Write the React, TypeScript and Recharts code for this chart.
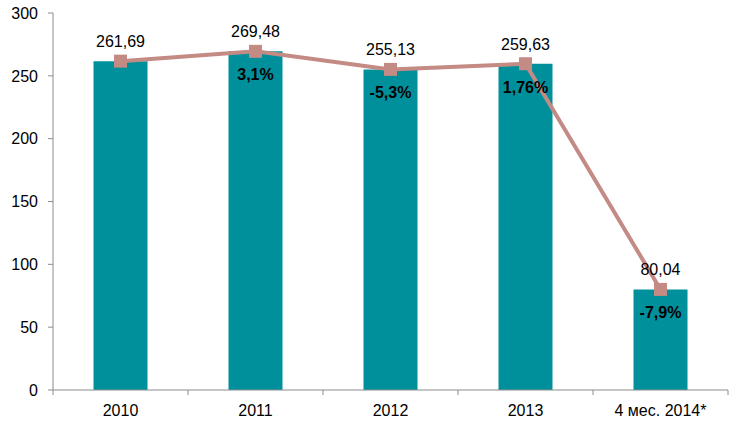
import React from "react";
import { ComposedChart, Bar, Line, XAxis, YAxis, LabelList } from "recharts";

const categories = ["2010", "2011", "2012", "2013", "4 мес. 2014*"];
const values = [261.69, 269.48, 255.13, 259.63, 80.04];
const changes: (string | null)[] = [null, "3,1%", "-5,3%", "1,76%", "-7,9%"];
const yTicks = [0, 50, 100, 150, 200, 250, 300];

const data = categories.map((c, i) => ({
  name: c,
  value: values[i],
  change: changes[i],
}));

const W = 744;
const H = 430;
const M = { top: 13, right: 16, left: 0, bottom: 10 };
const Y_W = 53;
const HALF_BAND = (W - M.left - M.right - Y_W) / categories.length / 2;

const FONT = "'Liberation Sans', Arial, sans-serif";
const FS = 16;
const AXIS = "#8c8c8c";
const BAR = "#00909c";
const LINE = "#c48a84";

const fmt = (v: number) => v.toFixed(2).replace(".", ",");

const XTick = (props: any) => {
  const { x, y, payload, index } = props;
  return (
    <g>
      <line x1={x - HALF_BAND} y1={y} x2={x - HALF_BAND} y2={y + 5} stroke={AXIS} />
      {index === categories.length - 1 && (
        <line x1={x + HALF_BAND} y1={y} x2={x + HALF_BAND} y2={y + 5} stroke={AXIS} />
      )}
      <text x={x} y={y + 26} textAnchor="middle" fontSize={FS} fontFamily={FONT} fill="#000">
        {payload.value}
      </text>
    </g>
  );
};

const SquareDot = (props: any) => {
  const { cx, cy } = props;
  if (cx == null || cy == null) return null;
  return <rect x={cx - 6.5} y={cy - 6.5} width={13} height={13} fill={LINE} />;
};

const ValueLabel = (props: any) => {
  const { x, y, value } = props;
  return (
    <text x={x} y={y - 14} textAnchor="middle" fontSize={FS} fontFamily={FONT} fill="#000">
      {fmt(value)}
    </text>
  );
};

const ChangeLabel = (props: any) => {
  const { x, y, value } = props;
  if (!value) return null;
  return (
    <text x={x} y={y + 29} textAnchor="middle" fontSize={FS} fontWeight="bold" fontFamily={FONT} fill="#000">
      {value}
    </text>
  );
};

export default function App() {
  return (
    <div style={{ position: "absolute", left: 0, top: 0, width: W, height: H, background: "#fff" }}>
      <ComposedChart width={W} height={H} data={data} margin={M} barCategoryGap="30%">
        <XAxis
          dataKey="name"
          tickLine={false}
          tickSize={0}
          tickMargin={0}
          axisLine={{ stroke: AXIS }}
          tick={<XTick />}
          height={30}
          interval={0}
        />
        <YAxis
          domain={[0, 300]}
          ticks={yTicks}
          width={Y_W}
          tickSize={5}
          tickMargin={10}
          axisLine={{ stroke: AXIS }}
          tickLine={{ stroke: AXIS }}
          tick={{ fill: "#000", fontSize: FS, fontFamily: FONT }}
          interval={0}
        />
        <Bar dataKey="value" fill={BAR} isAnimationActive={false} />
        <Line
          dataKey="value"
          stroke={LINE}
          strokeWidth={4}
          dot={<SquareDot />}
          activeDot={false}
          isAnimationActive={false}
        >
          <LabelList dataKey="value" content={<ValueLabel />} />
          <LabelList dataKey="change" content={<ChangeLabel />} />
        </Line>
      </ComposedChart>
    </div>
  );
}
